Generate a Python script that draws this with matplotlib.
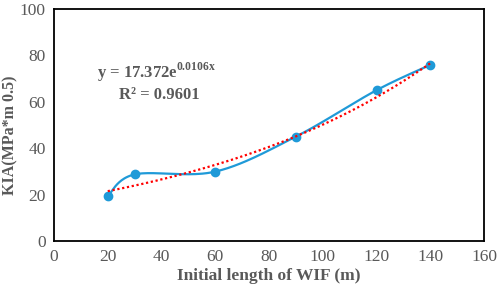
import numpy as np
import matplotlib.pyplot as plt

plt.rcParams['font.family'] = ['Liberation Serif', 'DejaVu Serif']

# data
length = np.array([20, 30, 60, 90, 120, 140])
kia = np.array([19.4, 28.7, 29.9, 45.0, 65.0, 75.9])

# exponential trendline y = a*exp(b*x)
a_fit = 17.372
b_fit = 0.0106

gray = '#595959'
blue = '#1f9ad8'


def smooth_line(x, y, n=40):
    # Excel-like smoothed line (Catmull-Rom via cubic Bezier)
    px = np.concatenate([[x[0]], x, [x[-1]]])
    py = np.concatenate([[y[0]], y, [y[-1]]])
    xs, ys = [], []
    t = np.linspace(0, 1, n)
    for i in range(1, len(px) - 2):
        p0 = np.array([px[i], py[i]])
        p3 = np.array([px[i + 1], py[i + 1]])
        p1 = p0 + (np.array([px[i + 1], py[i + 1]]) - np.array([px[i - 1], py[i - 1]])) / 6
        p2 = p3 - (np.array([px[i + 2], py[i + 2]]) - np.array([px[i], py[i]])) / 6
        pts = ((1 - t)**3)[:, None] * p0 + (3 * (1 - t)**2 * t)[:, None] * p1 \
            + (3 * (1 - t) * t**2)[:, None] * p2 + (t**3)[:, None] * p3
        xs.extend(pts[:, 0])
        ys.extend(pts[:, 1])
    return np.array(xs), np.array(ys)


fig = plt.figure(figsize=(4.98, 2.97), dpi=100)
ax = fig.add_axes([0.1084, 0.1886, 0.8636, 0.7811])

sx, sy = smooth_line(length, kia)
ax.plot(sx, sy, color=blue, lw=1.6, zorder=2)
ax.plot(length, kia, 'o', color=blue, ms=6, zorder=3)

xt = np.linspace(length.min(), length.max(), 200)
ax.plot(xt, a_fit * np.exp(b_fit * xt), color='#ff0000', lw=1.6, ls=(0, (1, 1.2)), zorder=4)

ax.text(16, 72.8, r'y = 17.372e$^{\mathregular{0.0106x}}$', fontsize=12, fontweight='bold',
        color=gray, va='center', ha='left')
ax.text(39, 63, 'R² = 0.9601', fontsize=12, fontweight='bold', color=gray,
        va='center', ha='center')

ax.set_xlim(0, 160)
ax.set_ylim(0, 100)
ax.set_xticks(np.arange(0, 161, 20))
ax.set_yticks(np.arange(0, 101, 20))
ax.tick_params(length=0, labelsize=12.5, labelcolor=gray, pad=6)
for s in ax.spines.values():
    s.set_color('black')
    s.set_linewidth(1.3)

ax.set_xlabel('Initial length of WIF (m)', fontsize=12.5, fontweight='bold', color=gray, labelpad=2)
fig.text(10 / 498, 1 - 135 / 297, 'KIA(MPa*m 0.5)', rotation=90, fontsize=11.5,
         fontweight='bold', color=gray, ha='center', va='center')

fig.savefig('out.png', dpi=100)
